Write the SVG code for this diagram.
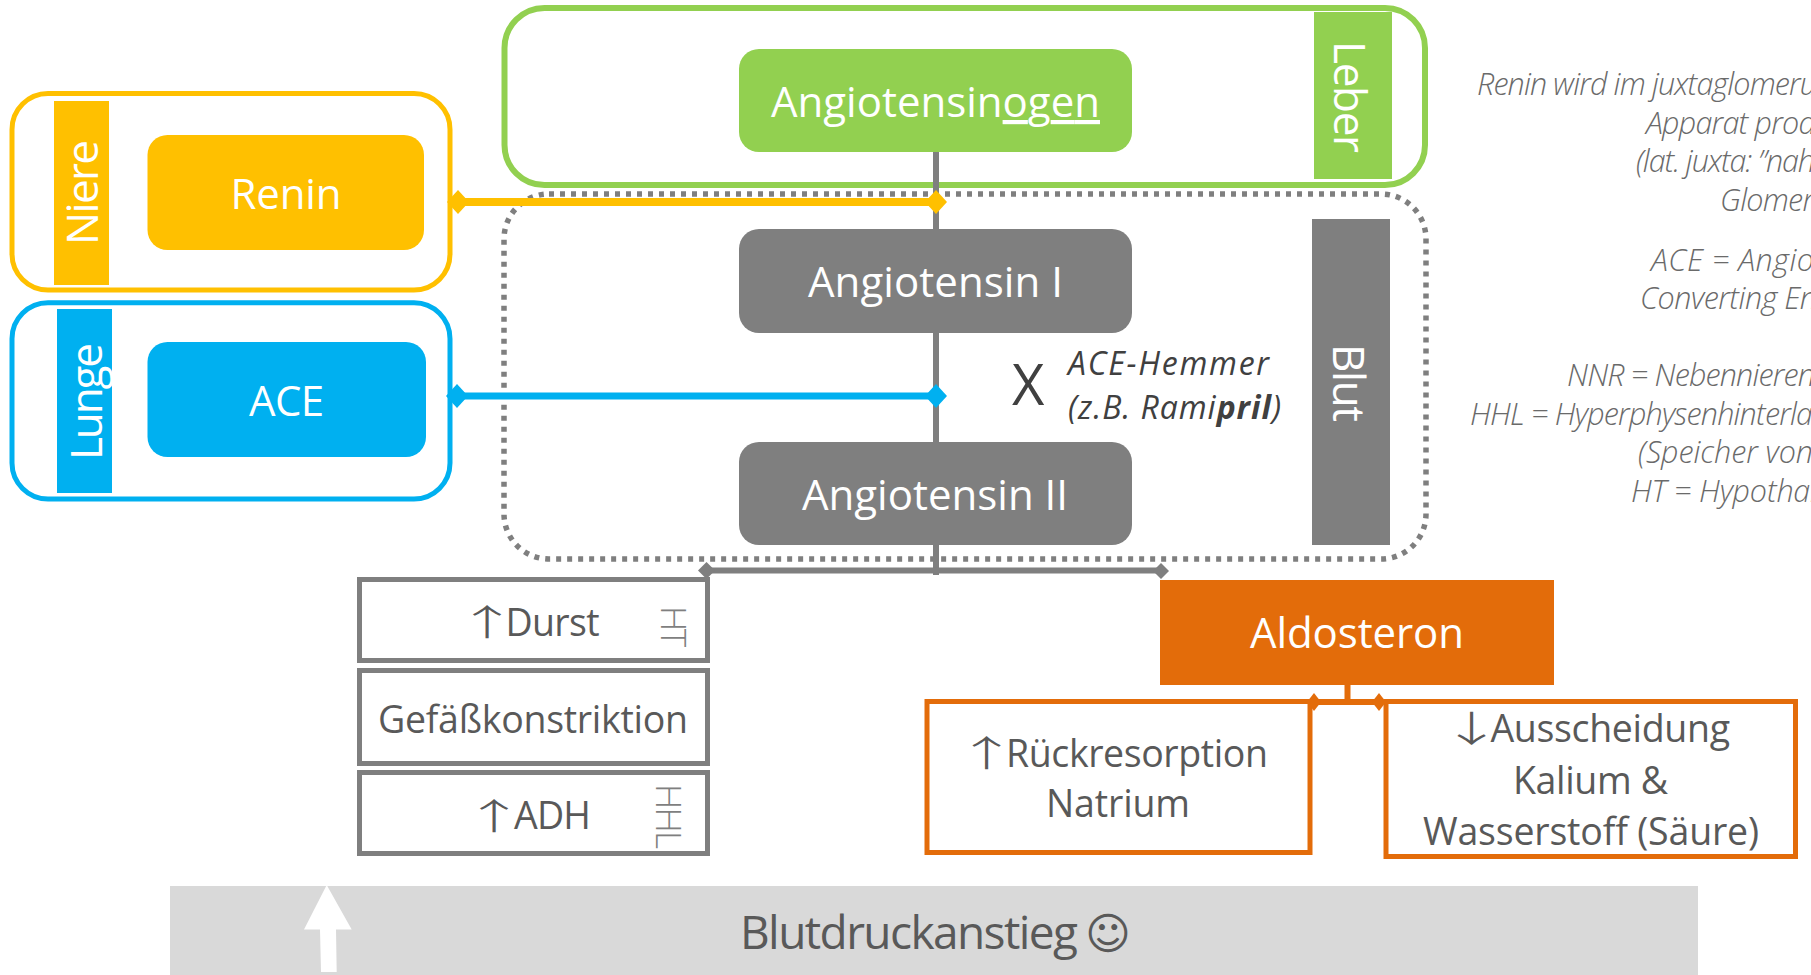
<svg xmlns="http://www.w3.org/2000/svg" width="1811" height="975" viewBox="0 0 1811 975">
<style>
text{font-family:"Open Sans","Noto Sans","Liberation Sans",sans-serif}
.w{fill:#fff;font-size:42px}
.v{fill:#fff;font-size:44px}
.d{fill:#595959;font-size:37.5px}
.n{fill:#6a6a6a;font-size:30.5px;font-style:italic;font-weight:300}
.m{fill:#404040;font-size:32px;font-style:italic}
.s{fill:#7f7f7f;font-size:35px;font-weight:300}
.a{font-family:"Noto Sans CJK SC","DejaVu Sans",sans-serif;font-size:36px;font-weight:300;fill:#595959;text-anchor:middle}
.gb{fill:none;stroke:#7f7f7f;stroke-width:5}
.ob{fill:none;stroke:#e36c0a;stroke-width:5}
</style>
<rect width="1811" height="975" fill="#fff"/>
<g id="band"><rect x="170" y="886" width="1528" height="89" fill="#d9d9d9"/>
<polygon points="304,929.500 326.700,885 351.700,929.500 336,929.500 336.700,972 321,972 320,929.500" fill="#fff"/>
<text x="740" y="949" font-size="46" fill="#595959" textLength="338">Blutdruckanstieg</text><text x="1085" y="949" font-size="44" fill="#595959" style="font-family:'DejaVu Sans',sans-serif">☺</text></g>
<g id="blut-frame"><rect x="504" y="194" width="922" height="365" rx="45" fill="none" stroke="#7f7f7f" stroke-width="5.500" stroke-dasharray="5 6"/>
<rect x="1312" y="219" width="78" height="326" fill="#7f7f7f"/>
<text class="v" transform="translate(1333,344) rotate(90)" textLength="78">Blut</text></g>
<g id="leber-frame"><rect x="504.500" y="8" width="920.500" height="177" rx="40" fill="none" stroke="#92d050" stroke-width="6"/>
<rect x="1314" y="12" width="78" height="167" fill="#92d050"/>
<text class="v" transform="translate(1334,41) rotate(90)" textLength="112">Leber</text></g>
<g id="niere-frame"><rect x="12" y="93.500" width="438" height="196.500" rx="36" fill="#fff" stroke="#ffc000" stroke-width="5"/>
<rect x="54" y="101" width="55" height="184" fill="#ffc000"/>
<text class="v" transform="translate(98,245) rotate(-90)" textLength="105">Niere</text></g>
<g id="lunge-frame"><rect x="12" y="302.700" width="438" height="196.300" rx="36" fill="#fff" stroke="#00b0f0" stroke-width="5"/>
<rect x="57" y="309" width="55" height="184" fill="#00b0f0"/>
<text class="v" transform="translate(101.500,460) rotate(-90)" textLength="117">Lunge</text></g>
<g id="connectors">
<path d="M936 152V229M936 333V442M936 545V575" fill="none" stroke="#7f7f7f" stroke-width="6"/>
<path d="M707 570.500H1160" fill="none" stroke="#7f7f7f" stroke-width="6"/>
<polygon points="698,570.500 706.500,562 715,570.500 706.500,579" fill="#7f7f7f"/>
<polygon points="1153,571 1161,563 1169,571 1161,579" fill="#7f7f7f"/>
<path d="M458 202H936" fill="none" stroke="#ffc000" stroke-width="8"/>
<polygon points="447,202 458,190 469,202 458,214" fill="#ffc000"/>
<polygon points="925,202 936,190 947,202 936,214" fill="#ffc000"/>
<path d="M457 396H936" fill="none" stroke="#00b0f0" stroke-width="7"/>
<polygon points="446,396 457,384 468,396 457,408" fill="#00b0f0"/>
<polygon points="925,396 936,384 947,396 936,408" fill="#00b0f0"/>
<path d="M1347.500 685V702M1314 702H1379" fill="none" stroke="#e36c0a" stroke-width="6"/>
<polygon points="1307,702 1314,693 1321,702 1314,711" fill="#e36c0a"/>
<polygon points="1372,702 1379,693 1386,702 1379,711" fill="#e36c0a"/>
</g>
<g id="angiotensinogen"><rect x="739" y="49" width="393" height="103" rx="20" fill="#92d050"/>
<text class="w" x="771" y="117" textLength="329">Angiotensin<tspan text-decoration="underline">ogen</tspan></text></g>
<g id="angiotensin1"><rect x="739" y="229" width="393" height="104" rx="20" fill="#7f7f7f"/>
<text class="w" x="808" y="297" textLength="255">Angiotensin I</text></g>
<g id="angiotensin2"><rect x="739" y="442" width="393" height="103" rx="20" fill="#7f7f7f"/>
<text class="w" x="802" y="510" textLength="266">Angiotensin II</text></g>
<g id="renin"><rect x="147.500" y="135" width="276.500" height="115" rx="20" fill="#ffc000"/>
<text class="w" x="230.500" y="209" textLength="111">Renin</text></g>
<g id="ace"><rect x="147.500" y="342" width="278.500" height="115" rx="20" fill="#00b0f0"/>
<text class="w" x="249" y="416" textLength="75">ACE</text></g>
<g id="hemmer"><text x="1012" y="405" font-size="56" fill="#404040" textLength="32">X</text>
<text class="m" x="1068" y="375" textLength="201">ACE-Hemmer</text>
<text class="m" x="1068" y="419" textLength="213">(z.B. Rami<tspan font-weight="700">pril</tspan>)</text></g>
<g id="durst"><rect class="gb" x="359.500" y="579.500" width="348" height="81"/>
<text class="a" transform="translate(487,636) scale(1.700,1)">↑</text><text class="d" x="505.500" y="636" textLength="94">Durst</text>
<text class="s" transform="translate(661,606) rotate(90)" textLength="41">HT</text></g>
<g id="gefaess"><rect class="gb" x="359.500" y="670.500" width="348" height="93"/>
<text class="d" x="378" y="733" textLength="310">Gefäßkonstriktion</text></g>
<g id="adh"><rect class="gb" x="359.500" y="772.500" width="348" height="81"/>
<text class="a" transform="translate(494,830) scale(1.700,1)">↑</text><text class="d" x="514" y="829" textLength="77">ADH</text>
<text class="s" transform="translate(656,784) rotate(90)" textLength="65">HHL</text></g>
<g id="aldosteron"><rect x="1160" y="580" width="394" height="105" fill="#e36c0a"/>
<text class="w" x="1250" y="648" textLength="214">Aldosteron</text></g>
<g id="rueckresorption"><rect class="ob" x="927" y="701.500" width="383" height="151"/>
<text class="a" transform="translate(986.500,767) scale(1.700,1)">↑</text><text class="d" x="1006" y="767" textLength="262">Rückresorption</text>
<text class="d" x="1046" y="817" textLength="144">Natrium</text></g>
<g id="ausscheidung"><rect class="ob" x="1386" y="701.500" width="409.500" height="155"/>
<text class="a" transform="translate(1471.500,742) scale(1.700,1)">↓</text><text class="d" x="1490.500" y="742" textLength="239.500">Ausscheidung</text>
<text class="d" x="1513" y="794" textLength="155">Kalium &amp;</text>
<text class="d" x="1423" y="845" textLength="336">Wasserstoff (Säure)</text></g>
<g id="notes">
<text class="n" x="1477" y="95" textLength="340">Renin wird im juxtaglomeru</text>
<text class="n" x="1646" y="134" textLength="170">Apparat prod</text>
<text class="n" x="1636" y="172" textLength="179">(lat. juxta: ”nah</text>
<text class="n" x="1720" y="211" textLength="94">Glomer</text>
<text class="n" x="1651" y="271" textLength="163">ACE = Angio</text>
<text class="n" x="1640" y="309" textLength="177">Converting En</text>
<text class="n" x="1567" y="386" textLength="248">NNR = Nebennieren</text>
<text class="n" x="1470" y="425" textLength="343">HHL = Hyperphysenhinterla</text>
<text class="n" x="1638" y="463" textLength="175">(Speicher von</text>
<text class="n" x="1631" y="502" textLength="186">HT = Hypothal</text>
</g>
</svg>
